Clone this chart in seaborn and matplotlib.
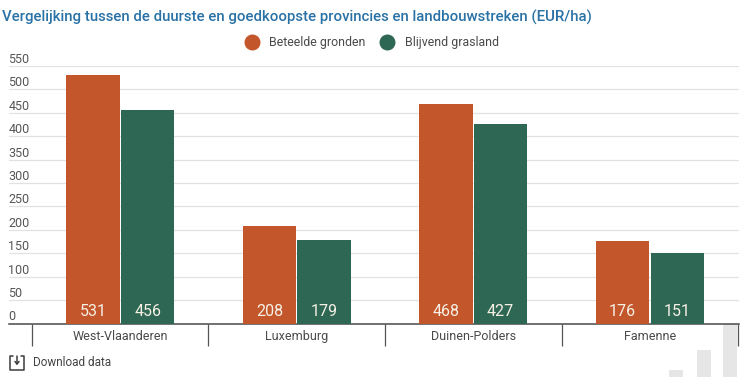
import matplotlib
matplotlib.use("Agg")
import matplotlib.pyplot as plt
import pandas as pd
import seaborn as sns
from matplotlib.lines import Line2D
from matplotlib.patches import Rectangle

regions = ["West-Vlaanderen", "Luxemburg", "Duinen-Polders", "Famenne"]
beteelde = [531, 208, 468, 176]
grasland = [456, 179, 427, 151]
y_ticks = [0, 50, 100, 150, 200, 250, 300, 350, 400, 450, 500, 550]

ORANGE = "#c4562b"
GREEN = "#2e6753"
W, H = 750, 382

sns.set_theme(style="white")
plt.rcParams["font.family"] = ["Roboto", "DejaVu Sans"]

df = pd.DataFrame({
    "regio": regions * 2,
    "waarde": beteelde + grasland,
    "soort": ["Beteelde gronden"] * 4 + ["Blijvend grasland"] * 4,
})

fig = plt.figure(figsize=(7.5, 3.82), dpi=100)
# axes in pixels: x 9-739, y 66-323.5
ax = fig.add_axes([9 / W, 1 - 323.5 / H, 730 / W, 257.5 / H])

sns.barplot(
    data=df, x="regio", y="waarde", hue="soort", order=regions,
    palette=[ORANGE, GREEN], width=0.62, gap=0.025, saturation=1,
    linewidth=0, legend=False, ax=ax, zorder=3,
)

ax.set_xlim(-0.63, 3.505)
ax.set_ylim(0, 550)
ax.set_xlabel("")
ax.set_ylabel("")
sns.despine(ax=ax, left=True, top=True, right=True)
ax.spines["bottom"].set_color("#4a4a4a")
ax.spines["bottom"].set_linewidth(1.1)

# horizontal grid, labels sit on top of each line
ax.set_yticks(y_ticks)
ax.set_yticklabels(y_ticks, fontsize=9, color="#555555", ha="left", va="bottom")
ax.tick_params(axis="y", length=0, pad=0.5)
ax.grid(axis="y", color="#e2e2e2", linewidth=0.9, zorder=0)
ax.set_axisbelow(True)

# category labels + separators between the groups
ax.set_xticks(range(4))
ax.set_xticklabels(regions, fontsize=9, color="#4a4a4a")
ax.tick_params(axis="x", which="major", length=0, pad=5)
ax.set_xticks([-0.5, 0.5, 1.5, 2.5, 3.5], minor=True)
ax.tick_params(axis="x", which="minor", bottom=True, length=16, width=0.9, color="#555555")

# values at the foot of each bar
for bar in ax.patches:
    if bar.get_height() > 0:
        ax.annotate(
            f"{bar.get_height():.0f}", (bar.get_x() + bar.get_width() / 2, 0),
            xytext=(0, 3.5), textcoords="offset points",
            ha="center", va="bottom", fontsize=11.5, color="#f6f0e6", zorder=4,
        )

fig.text(2.5 / W, 1 - 17 / H, "Vergelijking tussen de duurste en goedkoopste provincies en landbouwstreken (EUR/ha)",
         fontsize=10.85, fontweight="medium", color="#2a72a6", va="center")

handles = [
    Line2D([], [], marker="o", linestyle="", markersize=10.5, color=ORANGE, label="Beteelde gronden"),
    Line2D([], [], marker="o", linestyle="", markersize=10.5, color=GREEN, label="Blijvend grasland"),
]
fig.legend(handles=handles, loc="center", bbox_to_anchor=(369 / W, 1 - 42.5 / H), ncol=2, frameon=False,
           fontsize=8.9, labelcolor="#4a4a4a", handletextpad=0.45, columnspacing=0.7)

# download link
fig.text(33 / W, 1 - 363 / H, "Download data", fontsize=8.5, color="#444444", va="center")
px = lambda x, y: (x / W, 1 - y / H)
for pts in (
    [(13, 356), (10, 356), (10, 370), (24, 370), (24, 356), (21, 356)],
    [(17, 356), (17, 364)],
    [(15, 361.5), (17, 364), (19, 361.5)],
):
    xs, ys = zip(*[px(*p) for p in pts])
    fig.add_artist(Line2D(xs, ys, color="#3c3c3c", linewidth=1.1))

# faint logo bottom right
for x0, top in [(669, 370), (697, 350), (723, 324)]:
    fig.add_artist(Rectangle(px(x0, 377), 14 / W, (377 - top) / H, color="#e6e6e6", linewidth=0, zorder=-1))

fig.savefig("out.png", dpi=100, facecolor="white")
